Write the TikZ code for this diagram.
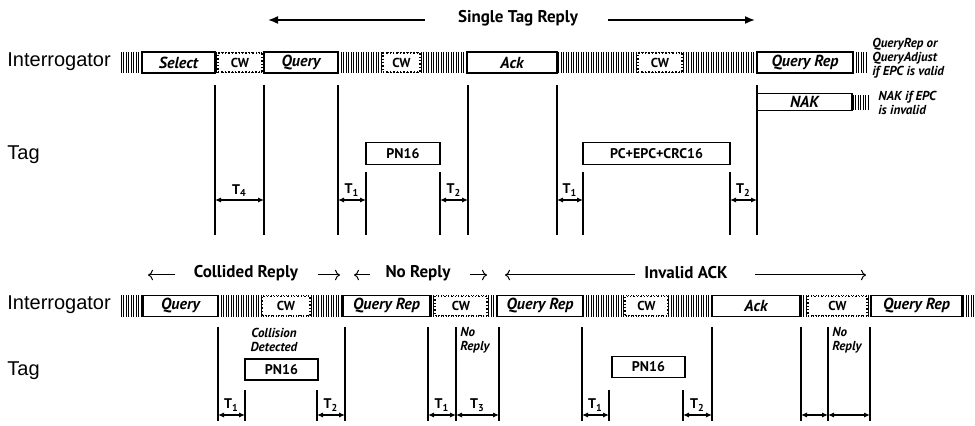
\documentclass[tikz,border=0pt]{standalone}
\usepackage{fontspec}
\setmainfont{PT Sans}
\newfontfamily\rowfont{Liberation Sans}
\usetikzlibrary{arrows.meta, positioning}

\begin{document}
\begin{tikzpicture}[x=0.5pt, y=-0.5pt,
    msg/.style={draw, line width=0.9pt, fill=white, minimum height=10.5pt, inner sep=0pt,
                font=\fontsize{8}{9}\selectfont\bfseries\itshape},
    cw/.style={draw, densely dotted, line width=0.7pt, fill=white, minimum height=9.5pt,
               inner sep=0pt, font=\fontsize{6.5}{7}\selectfont\bfseries},
    reply/.style={draw, line width=0.9pt, fill=white, minimum height=11pt, inner sep=0pt,
                  font=\fontsize{7}{8}\selectfont\bfseries},
    note/.style={font=\fontsize{6.5}{7}\selectfont\bfseries\itshape, align=left, anchor=west, inner sep=0pt},
    rowlabel/.style={font=\rowfont\fontsize{10}{12}\selectfont, anchor=west, inner sep=0pt},
    head/.style={font=\fontsize{8.5}{10}\selectfont\bfseries},
    hatch/.style={line width=0.3pt},
    tick/.style={line width=1.1pt},
    tarrow/.style={{Latex[length=3pt,width=2.6pt]}-{Latex[length=3pt,width=2.6pt]}, line width=0.7pt},
    tlabel/.style={font=\fontsize{7}{8}\selectfont\bfseries, above, inner sep=1.5pt},
    span/.style={-{Latex[length=5pt,width=4pt]}, line width=0.8pt},
    thinspan/.style={-{To[length=2.5pt]}, line width=0.5pt}
]
\useasboundingbox (0,0) rectangle (975,426);

% ---- single tag reply ----
\node[head] (single) at (518,18) {Single Tag Reply};
\draw[span] (425,20) -- (268,20);
\draw[span] (608,20) -- (755,20);

\node[rowlabel] (irow1) at (7,62) {Interrogator};
\node[rowlabel] (trow1) at (7,155) {Tag};

\foreach \x in {121,123.5,...,868} \draw[hatch] (\x,52) -- (\x,73);
\foreach \x in {853,855.5,...,868} \draw[hatch] (\x,95) -- (\x,110);

\node[msg, minimum width=36.5pt] (select) at (178.5,62.5) {Select};
\node[cw, minimum width=22pt] (cw1) at (240,62.5) {CW};
\node[msg, minimum width=37pt] (query1) at (301,62.5) {Query};
\node[cw, minimum width=18.5pt] (cw2) at (401.5,62.5) {CW};
\node[msg, minimum width=45pt] (ack1) at (512,62.5) {Ack};
\node[cw, minimum width=22pt] (cw3) at (660,62.5) {CW};
\node[msg, minimum width=48pt] (qrep1) at (805,62.5) {Query Rep};
\node[msg, minimum width=47.5pt, minimum height=8.5pt] (nak) at (804.5,102) {NAK};

\node[note] (valid) at (872,58) {QueryRep or\\QueryAdjust\\if EPC is valid};
\node[note] (invalid) at (878,103) {NAK if EPC\\is invalid};

\node[reply, minimum width=37pt] (pn1) at (403,153.5) {PN16};
\node[reply, minimum width=73.5pt] (epc) at (656.5,153.5) {PC+EPC+CRC16};

\foreach \x in {215,264,338,468,557,757} \draw[tick] (\x,85) -- (\x,235);
\foreach \x in {366,440,583,730} \draw[tick] (\x,172) -- (\x,235);
\foreach \a/\b/\t in {215/264/4, 338/366/1, 440/468/2, 557/583/1, 730/757/2}
    \draw[tarrow] (\a,200) -- node[tlabel] {T\textsubscript{\t}} (\b,200);

% ---- collided, no reply, invalid ack ----
\node[head] (collided) at (246,273) {Collided Reply};
\draw[thinspan] (175,275) -- (148,275);
\draw[thinspan] (318,275) -- (340,275);
\node[head] (noreply) at (418,273) {No Reply};
\draw[thinspan] (370,275) -- (354,275);
\draw[thinspan] (470,275) -- (487,275);
\node[head] (badack) at (686,273) {Invalid ACK};
\draw[thinspan] (635,275) -- (505,275);
\draw[thinspan] (755,275) -- (866,275);

\node[rowlabel] (irow2) at (7,305) {Interrogator};
\node[rowlabel] (trow2) at (7,371) {Tag};

\foreach \x in {121,123.5,...,975} \draw[hatch] (\x,295) -- (\x,317);

\node[msg, minimum width=37.5pt] (query2) at (180.5,306) {Query};
\node[cw, minimum width=24pt] (cw4) at (286,306) {CW};
\node[msg, minimum width=43.5pt] (qrep2) at (386.5,306) {Query Rep};
\node[cw, minimum width=26pt] (cw5) at (461,306) {CW};
\node[msg, minimum width=43pt] (qrep3) at (540,306) {Query Rep};
\node[cw, minimum width=21.5pt] (cw6) at (646.5,306) {CW};
\node[msg, minimum width=44pt] (ack2) at (756,306) {Ack};
\node[cw, minimum width=29.5pt] (cw7) at (837.5,306) {CW};
\node[msg, minimum width=45.5pt] (qrep4) at (916.5,306) {Query Rep};

\node[note, anchor=center, align=center] (collision) at (274,340) {Collision\\Detected};
\node[note, anchor=north west] (none1) at (460,327) {No\\Reply};
\node[note, anchor=north west] (none2) at (832,327) {No\\Reply};

\node[reply, minimum width=36.5pt, minimum height=10.5pt] (pn2) at (281.5,369.5) {PN16};
\node[reply, minimum width=36.5pt, minimum height=10.5pt] (pn3) at (648.5,367) {PN16};

\foreach \x in {218,345,428,456,499,582,712,801,828,870} \draw[tick] (\x,327) -- (\x,421);
\foreach \x in {245,317,609,683} \draw[tick] (\x,390) -- (\x,421);
\foreach \a/\b/\t in {218/245/1, 317/345/2, 428/456/1, 456/499/3, 582/609/1, 683/712/2}
    \draw[tarrow] (\a,415) -- node[tlabel] {T\textsubscript{\t}} (\b,415);
\draw[tarrow] (801,415) -- (828,415);
\draw[tarrow] (828,415) -- (870,415);
\end{tikzpicture}
\end{document}
